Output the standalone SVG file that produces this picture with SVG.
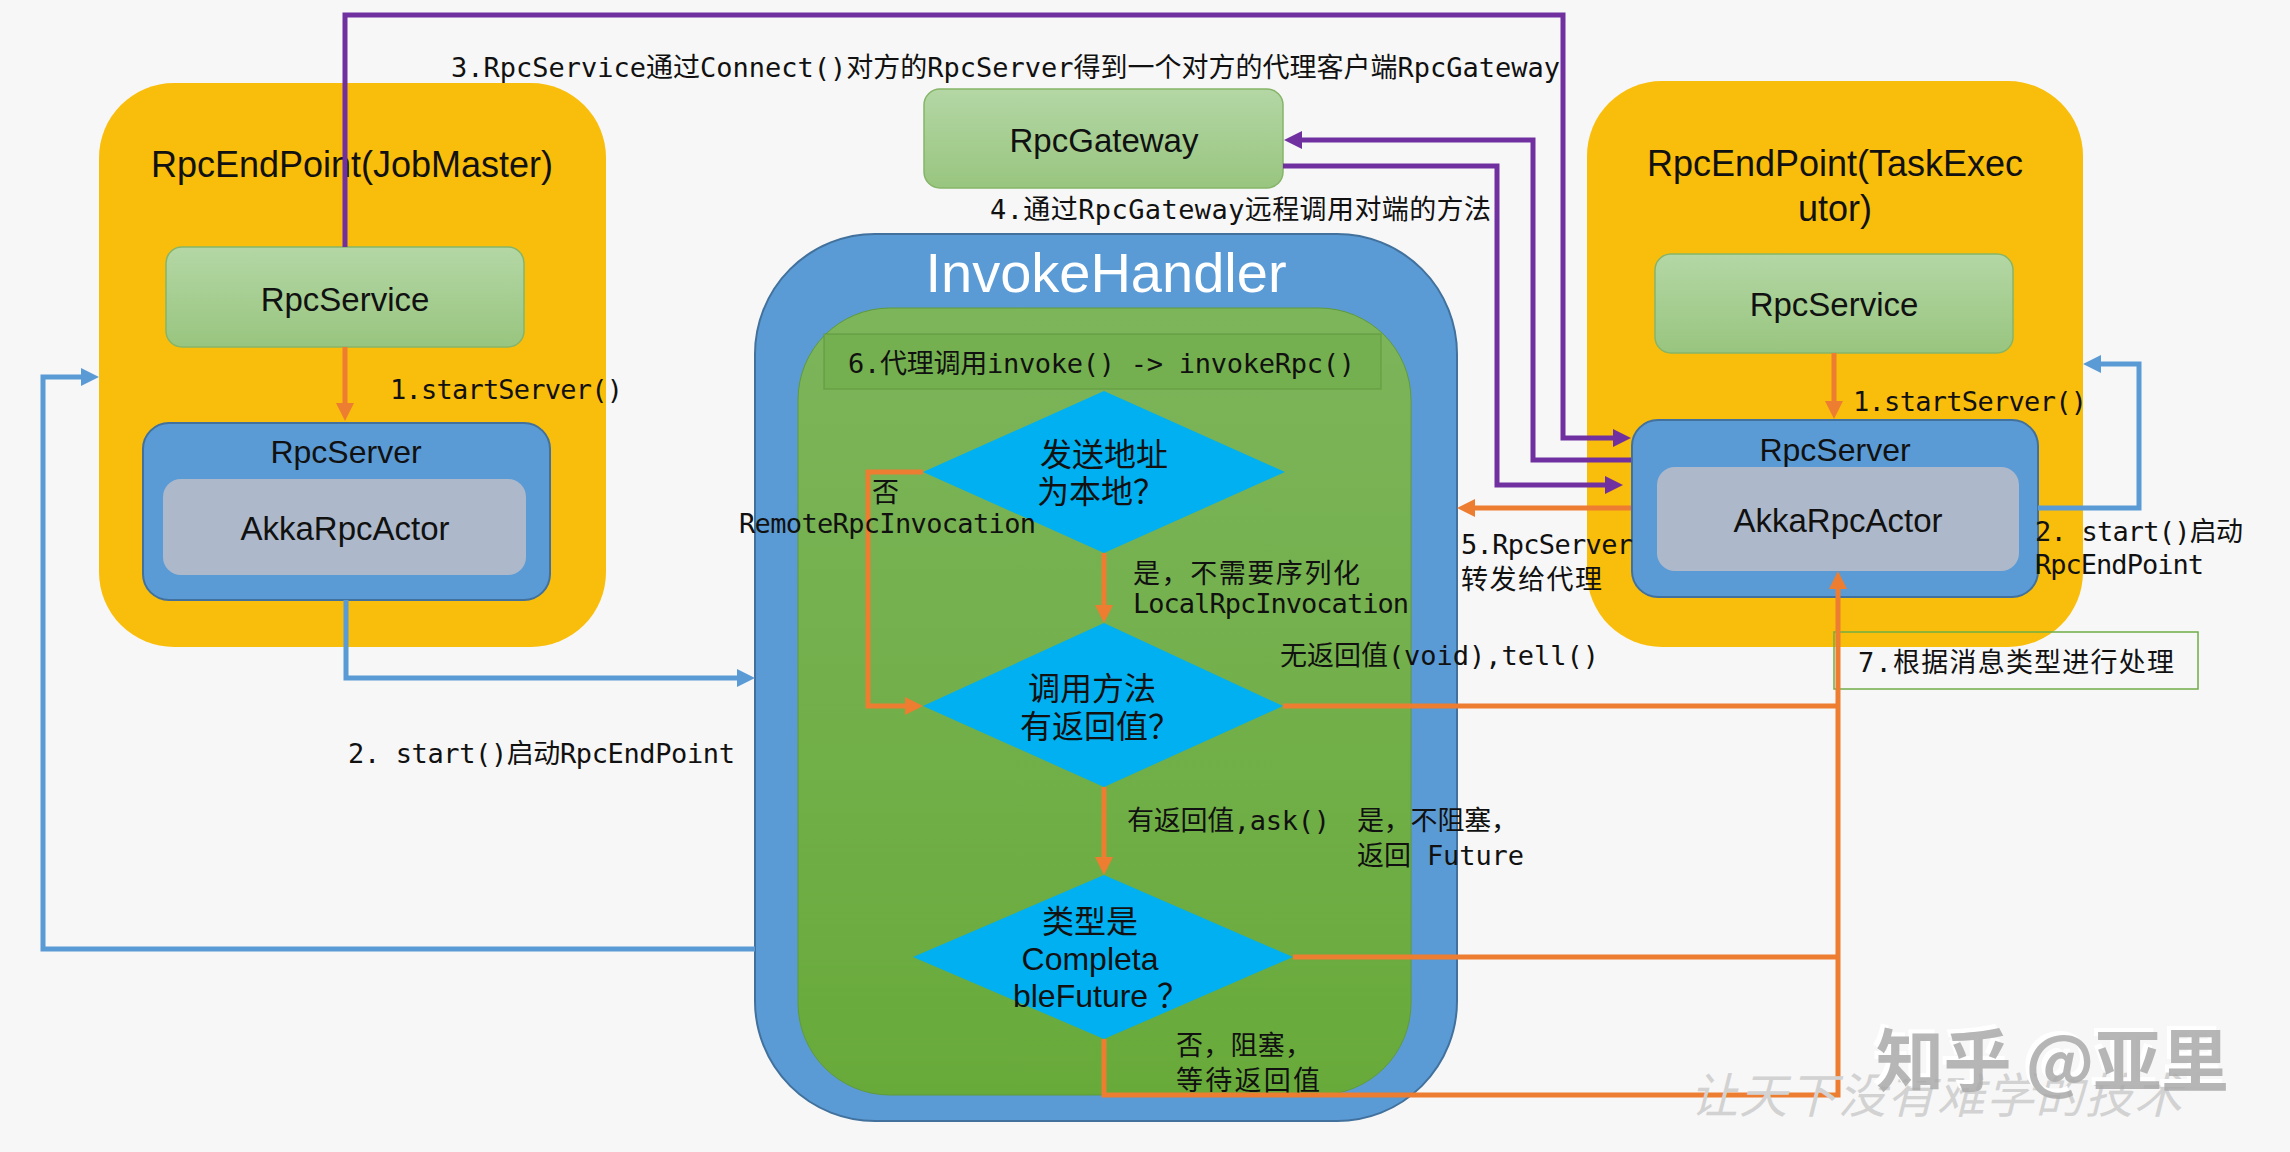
<svg xmlns="http://www.w3.org/2000/svg" width="2290" height="1152" viewBox="0 0 2290 1152">
<defs>
<linearGradient id="gLight" x1="0" y1="0" x2="0" y2="1">
<stop offset="0" stop-color="#b4d7a5"/><stop offset="1" stop-color="#98c57f"/>
</linearGradient>
<linearGradient id="gInner" x1="0" y1="0" x2="0" y2="1">
<stop offset="0" stop-color="#7db55b"/><stop offset="1" stop-color="#68aa3a"/>
</linearGradient>
<marker id="aO" markerUnits="userSpaceOnUse" markerWidth="18" markerHeight="18" refX="8" refY="9" orient="auto"><path d="M0,0 L18,9 L0,18 z" fill="#ed7d31"/></marker>
<marker id="aP" markerUnits="userSpaceOnUse" markerWidth="18" markerHeight="18" refX="8" refY="9" orient="auto"><path d="M0,0 L18,9 L0,18 z" fill="#7030a0"/></marker>
<marker id="aB" markerUnits="userSpaceOnUse" markerWidth="18" markerHeight="18" refX="8" refY="9" orient="auto"><path d="M0,0 L18,9 L0,18 z" fill="#5b9bd5"/></marker>
</defs>
<style>
.sans{font-family:"Liberation Sans",Arial,"Noto Sans CJK SC",sans-serif;fill:#111;}
.cjk{font-family:"Noto Sans CJK SC","Liberation Sans",sans-serif;fill:#111;}
.mono{font-family:"DejaVu Sans Mono","Liberation Mono","Noto Sans CJK SC",monospace;font-size:27px;fill:#111;}
.yellow{fill:#f9bd0b;}
.svc{fill:url(#gLight);stroke:#86b568;stroke-width:1.5;}
.srv{fill:#5b9bd5;stroke:#41719c;stroke-width:2;}
.actor{fill:#adb9ca;}
.dia{fill:#00b0f0;}
.o{fill:none;stroke:#ed7d31;stroke-width:5;}
.p{fill:none;stroke:#7030a0;stroke-width:5;}
.b{fill:none;stroke:#5b9bd5;stroke-width:5;}
</style>
<rect x="0" y="0" width="2290" height="1152" fill="#f7f7f7"/>

<g id="endpoint-jobmaster">
<rect class="yellow" x="99" y="83" width="507" height="564" rx="75" ry="75"/>
<text class="sans" x="352" y="177" font-size="36" text-anchor="middle">RpcEndPoint(JobMaster)</text>
</g>
<g id="rpcservice-left">
<rect class="svc" x="166" y="247" width="358" height="100" rx="16"/>
<text class="sans" x="345" y="311" font-size="33" text-anchor="middle">RpcService</text>
</g>
<g id="rpcserver-left">
<rect class="srv" x="143" y="423" width="407" height="177" rx="26"/>
<text class="sans" x="346" y="463" font-size="32" text-anchor="middle">RpcServer</text>
<rect class="actor" x="163" y="479" width="363" height="96" rx="18"/>
<text class="sans" x="345" y="540" font-size="33" text-anchor="middle">AkkaRpcActor</text>
</g>

<g id="endpoint-taskexecutor">
<rect class="yellow" x="1587" y="81" width="496" height="566" rx="75" ry="75"/>
<text class="sans" x="1835" y="176" font-size="36" text-anchor="middle">RpcEndPoint(TaskExec</text>
<text class="sans" x="1835" y="221" font-size="36" text-anchor="middle">utor)</text>
</g>
<g id="rpcservice-right">
<rect class="svc" x="1655" y="254" width="358" height="99" rx="16"/>
<text class="sans" x="1834" y="316" font-size="33" text-anchor="middle">RpcService</text>
</g>
<g id="rpcserver-right">
<rect class="srv" x="1632" y="420" width="406" height="177" rx="26"/>
<text class="sans" x="1835" y="461" font-size="32" text-anchor="middle">RpcServer</text>
<rect class="actor" x="1657" y="467" width="362" height="104" rx="18"/>
<text class="sans" x="1838" y="532" font-size="33" text-anchor="middle">AkkaRpcActor</text>
</g>

<g id="rpcgateway">
<rect class="svc" x="924" y="89" width="359" height="99" rx="16"/>
<text class="sans" x="1104" y="152" font-size="33" text-anchor="middle">RpcGateway</text>
</g>

<g id="invokehandler">
<rect x="755" y="234" width="702" height="887" rx="120" ry="120" fill="#5b9bd5" stroke="#41719c" stroke-width="2"/>
<text x="1106" y="292" font-size="56" text-anchor="middle" style="font-family:'Liberation Sans',Arial,sans-serif;fill:#ffffff;">InvokeHandler</text>
<rect x="798" y="308" width="613" height="787" rx="92" ry="92" fill="url(#gInner)" stroke="#5f9a3a" stroke-width="1"/>
</g>
<g id="step6-box">
<rect x="824" y="334" width="557" height="55" fill="#74b04f" stroke="#5e9640" stroke-opacity="0.6" stroke-width="1.5"/>
<text class="mono" x="848" y="373" textLength="507">6.代理调用invoke() -&gt; invokeRpc()</text>
</g>
<g id="decision-local">
<polygon class="dia" points="1104,391 1285,472 1104,553 923,472"/>
<text class="cjk" x="1104" y="466" font-size="32" text-anchor="middle">发送地址</text>
<text class="cjk" x="1101" y="503" font-size="32" text-anchor="middle">为本地？</text>
</g>
<g id="decision-return">
<polygon class="dia" points="1104,623 1283,706 1104,787 923,706"/>
<text class="cjk" x="1092" y="700" font-size="32" text-anchor="middle">调用方法</text>
<text class="cjk" x="1100" y="738" font-size="32" text-anchor="middle">有返回值？</text>
</g>
<g id="decision-future">
<polygon class="dia" points="1104,875 1293,957 1104,1039 913,957"/>
<text class="cjk" x="1090" y="933" font-size="32" text-anchor="middle">类型是</text>
<text class="sans" x="1090" y="970" font-size="32" text-anchor="middle">Completa</text>
<text class="sans" x="1101" y="1007" font-size="32" text-anchor="middle">bleFuture ？</text>
</g>
<g id="step7-box">
<rect x="1834" y="632" width="364" height="57" fill="none" stroke="#70ad47" stroke-width="1.5"/>
<text class="mono" x="1858" y="672" textLength="316">7.根据消息类型进行处理</text>
</g>

<g id="connectors">
<path class="o" d="M345,347 V411" marker-end="url(#aO)"/>
<path class="o" d="M1834,353 V409" marker-end="url(#aO)"/>
<path class="o" d="M1631,508 H1467" marker-end="url(#aO)"/>
<path class="o" d="M923,472 H868 V706 H913" marker-end="url(#aO)"/>
<path class="o" d="M1104,553 V613" marker-end="url(#aO)"/>
<path class="o" d="M1104,787 V865" marker-end="url(#aO)"/>
<path class="o" d="M1283,706 H1838"/>
<path class="o" d="M1293,957 H1838"/>
<path class="o" d="M1104,1039 V1095 H1838 V581" marker-end="url(#aO)"/>
<path class="p" d="M345,247 V15 H1563 V438 H1621" marker-end="url(#aP)"/>
<path class="p" d="M1631,460 H1533 V140 H1294" marker-end="url(#aP)"/>
<path class="p" d="M1283,166 H1497 V485 H1613" marker-end="url(#aP)"/>
<path class="b" d="M346,600 V678 H745" marker-end="url(#aB)"/>
<path class="b" d="M755,949 H43 V377 H89" marker-end="url(#aB)"/>
<path class="b" d="M2038,508 H2139 V364 H2093" marker-end="url(#aB)"/>
</g>

<g id="labels">
<text class="mono" x="451" y="77" textLength="1109">3.RpcService通过Connect()对方的RpcServer得到一个对方的代理客户端RpcGateway</text>
<text class="mono" x="990" y="219" textLength="501">4.通过RpcGateway远程调用对端的方法</text>
<text class="mono" x="390" y="399" textLength="233">1.startServer()</text>
<text class="mono" x="1853" y="411" textLength="234">1.startServer()</text>
<text class="mono" x="348" y="763" textLength="387">2. start()启动RpcEndPoint</text>
<text class="mono" x="2035" y="541" textLength="208">2. start()启动</text>
<text class="mono" x="2035" y="574" textLength="169">RpcEndPoint</text>
<text class="mono" x="1461" y="554" textLength="172">5.RpcServer</text>
<text class="mono" x="1461" y="589" textLength="141">转发给代理</text>
<text class="mono" x="872" y="502">否</text>
<text class="mono" x="739" y="533" textLength="297">RemoteRpcInvocation</text>
<text class="mono" x="1133" y="583" textLength="227">是，不需要序列化</text>
<text class="mono" x="1133" y="613" textLength="276">LocalRpcInvocation</text>
<text class="mono" x="1280" y="665" textLength="319">无返回值(void),tell()</text>
<text class="mono" x="1127" y="830" textLength="203">有返回值,ask()</text>
<text class="mono" x="1357" y="830" textLength="161">是，不阻塞，</text>
<text class="mono" x="1357" y="865" textLength="167">返回 Future</text>
<text class="mono" x="1176" y="1055" textLength="136">否，阻塞，</text>
<text class="mono" x="1176" y="1090" textLength="144">等待返回值</text>
</g>

<g id="watermark">
<text x="1690" y="1113" font-size="48" font-style="italic" textLength="492" style="font-family:'Noto Sans CJK SC',sans-serif;fill:#d2d2d2;">让天下没有难学的技术</text>
<text x="1872" y="1082" font-size="68" font-weight="bold" textLength="353" style="font-family:'Noto Sans CJK SC',sans-serif;fill:#ffffff;">知乎 @亚里</text>
<text x="1876" y="1086" font-size="68" font-weight="bold" textLength="353" style="font-family:'Noto Sans CJK SC',sans-serif;fill:#a9a9a9;fill-opacity:0.85;">知乎 @亚里</text>
</g>
</svg>
